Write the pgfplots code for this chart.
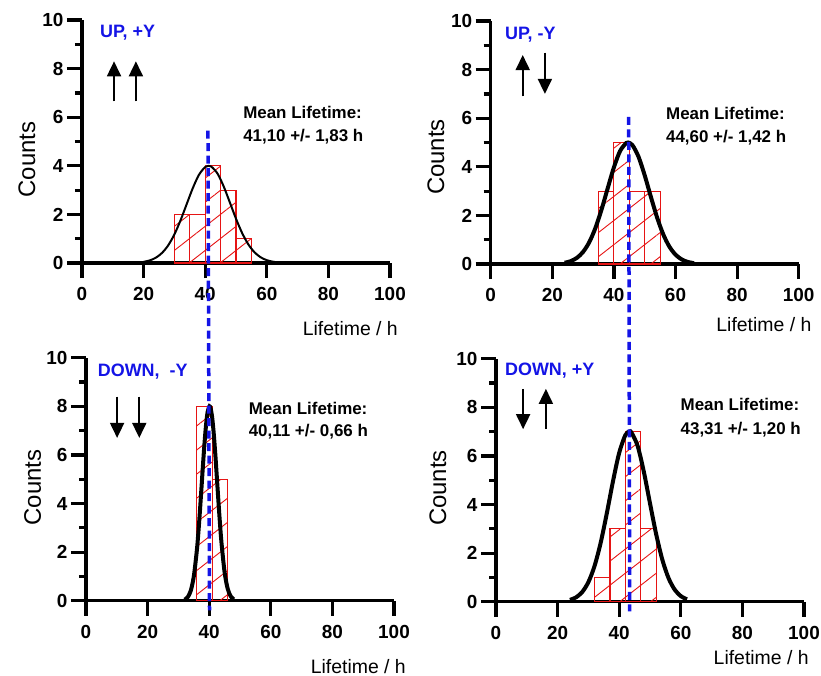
\documentclass[border=0pt]{standalone}
\usepackage{fontspec}
\setmainfont{Liberation Sans}
\usepackage{pgfplots}
\pgfplotsset{compat=1.18}
\usetikzlibrary{arrows.meta,patterns.meta}
\definecolor{dblue}{RGB}{20,20,230}
\definecolor{hred}{RGB}{230,20,20}

\pgfplotsset{
  panel/.style={
    scale only axis, width=308bp, height=243bp,
    xmin=0,xmax=100,ymin=0,ymax=10,
    axis lines=left, axis line style={-, line width=3.2bp},
    xtick={0,20,...,100}, ytick={0,2,...,10}, minor ytick={1,3,...,9},
    tick align=outside,
    xlabel={Lifetime / h}, ylabel={Counts},
    xlabel style={font=\fontsize{19.5}{22}\selectfont, anchor=east, inner sep=0pt},
    ylabel style={font=\fontsize{24}{26}\selectfont, anchor=center, inner sep=0pt},
    clip=false,
  },
  hist/.style={ybar interval, draw=hred, line width=1.1bp,
    pattern={Lines[angle=38,distance=19bp,line width=0.9bp]}, pattern color=hred},
  gauss/.style={black, line width=#1, smooth, mark=none},
}
\tikzset{
  tag/.style={anchor=west, inner sep=0pt, text=dblue, font=\bfseries\fontsize{18}{20}\selectfont},
  mean/.style={anchor=west, inner sep=0pt, font=\bfseries\fontsize{17}{19}\selectfont},
  arr/.style={line width=1.8bp, -{Triangle[length=15bp,width=14bp]}},
}

\begin{document}
\begin{tikzpicture}
\useasboundingbox (0,0) rectangle (821bp,-676bp);

% ---------- Panel 1: UP, +Y ----------
\begin{axis}[panel, at={(82bp,-263bp)}, anchor=south west,
  major tick length=15bp, minor tick length=7bp,
  every tick/.style={line width=3.2bp, black},
  tick label style={font=\bfseries\fontsize{19}{21}\selectfont},
  xticklabel={\pgfmathprintnumber{\tick}}, yticklabel={\pgfmathprintnumber{\tick}},
  xticklabel shift=6bp,
  xlabel style={at={(axis description cs:1.026,-0.269)}},
  ylabel style={at={(axis description cs:-0.179,0.426)}},
  /pgf/number format/assume math mode=true]
\addplot[hist] coordinates {(30,2) (35,2) (40,4) (45,3) (50,1) (55,1)};
\addplot[gauss=2bp] coordinates {
(20,0.048) (22,0.107) (24,0.220) (26,0.417) (28,0.729) (30,1.178) (32,1.759)
(34,2.426) (36,3.090) (38,3.636) (40,3.952) (41.1,4.000) (42,3.968) (44,3.680)
(46,3.152) (48,2.494) (50,1.823) (52,1.231) (54,0.768) (56,0.442) (58,0.235)
(60,0.116) (62,0.053) (64,0.022)};
\node[tag] at (axis cs:5.8,9.46) {UP, +Y};
\draw[arr] (axis cs:10.4,6.65) -- (axis cs:10.4,8.3);
\draw[arr] (axis cs:17.5,6.65) -- (axis cs:17.5,8.3);
\node[mean] at (axis cs:52.3,6.2) {Mean Lifetime:};
\node[mean] at (axis cs:52.3,5.2) {41,10 +/- 1,83 h};
\coordinate (T1) at (axis cs:40.9,5.45);
\end{axis}

% ---------- Panel 2: UP, -Y ----------
\begin{axis}[panel, at={(490.7bp,-264bp)}, anchor=south west,
  major tick length=15bp, minor tick length=7bp,
  every tick/.style={line width=3.2bp, black},
  tick label style={font=\bfseries\fontsize{19}{21}\selectfont},
  xticklabel={\pgfmathprintnumber{\tick}}, yticklabel={\pgfmathprintnumber{\tick}},
  xticklabel shift=6bp,
  xlabel style={at={(axis description cs:1.042,-0.251)}},
  ylabel style={at={(axis description cs:-0.178,0.44)}},
  /pgf/number format/assume math mode=true]
\addplot[hist] coordinates {(35,3) (40,5) (45,3) (50,3) (55,3)};
\addplot[gauss=4bp] coordinates {
(24,0.051) (26,0.119) (28,0.254) (30,0.499) (32,0.898) (34,1.483) (36,2.247)
(38,3.122) (40,3.977) (42,4.648) (44,4.981) (44.6,5.000) (46,4.895) (48,4.412)
(50,3.648) (52,2.766) (54,1.923) (56,1.227) (58,0.717) (60,0.385) (62,0.189)
(64,0.085) (66,0.035)};
\node[tag] at (axis cs:4.6,9.42) {UP, -Y};
\draw[arr] (axis cs:10.4,6.9) -- (axis cs:10.4,8.6);
\draw[arr] (axis cs:17.6,8.7) -- (axis cs:17.6,7.0);
\node[mean] at (axis cs:56.9,6.2) {Mean Lifetime:};
\node[mean] at (axis cs:56.9,5.2) {44,60 +/- 1,42 h};
\coordinate (T2) at (axis cs:44.8,6.05);
\end{axis}

% ---------- Panel 3: DOWN, -Y ----------
\begin{axis}[panel, at={(86bp,-600.7bp)}, anchor=south west,
  major tick length=15bp, minor tick length=7bp,
  every tick/.style={line width=3.2bp, black},
  tick label style={font=\bfseries\fontsize{19}{21}\selectfont},
  xticklabel={\pgfmathprintnumber{\tick}}, yticklabel={\pgfmathprintnumber{\tick}},
  xticklabel shift=6bp,
  xlabel style={at={(axis description cs:1.039,-0.271)}},
  ylabel style={at={(axis description cs:-0.173,0.466)}},
  /pgf/number format/assume math mode=true]
\addplot[hist] coordinates {(36,8) (41,5) (46,5)};
\addplot[gauss=4bp] coordinates {
(32,0.042) (33,0.142) (34,0.407) (35,0.999) (36,2.085) (36.5,2.837) (37,3.708)
(37.5,4.659) (38,5.622) (38.5,6.518) (39,7.262) (39.5,7.773) (40.1,8.000)
(40.5,7.898) (41,7.498) (41.5,6.839) (42,5.994) (42.5,5.046) (43,4.082)
(43.5,3.173) (44,2.370) (45,1.172) (46,0.494) (47,0.177) (48,0.054)};
\node[tag] at (axis cs:3.8,9.44) {DOWN,\ \ -Y};
\draw[arr] (axis cs:10.1,8.4) -- (axis cs:10.1,6.7);
\draw[arr] (axis cs:17.3,8.4) -- (axis cs:17.3,6.7);
\node[mean] at (axis cs:52.8,7.9) {Mean Lifetime:};
\node[mean] at (axis cs:52.8,6.97) {40,11 +/- 0,66 h};
\coordinate (B1) at (axis cs:40.1,-0.4);
\end{axis}

% ---------- Panel 4: DOWN, +Y ----------
\begin{axis}[panel, at={(496bp,-601.7bp)}, anchor=south west,
  major tick length=15bp, minor tick length=7bp,
  every tick/.style={line width=3.2bp, black},
  tick label style={font=\bfseries\fontsize{19}{21}\selectfont},
  xticklabel={\pgfmathprintnumber{\tick}}, yticklabel={\pgfmathprintnumber{\tick}},
  xticklabel shift=6bp,
  xlabel style={at={(axis description cs:1.016,-0.229)}},
  ylabel style={at={(axis description cs:-0.189,0.468)}},
  /pgf/number format/assume math mode=true]
\addplot[hist] coordinates {(32,1) (37,3) (42,7) (47,3) (52,3)};
\addplot[gauss=4bp] coordinates {
(24,0.074) (26,0.181) (28,0.402) (30,0.808) (32,1.473) (34,2.435) (36,3.653)
(38,4.968) (40,6.128) (42,6.857) (43.3,7.000) (44,6.958) (46,6.404) (48,5.345)
(50,4.047) (52,2.779) (54,1.731) (56,0.977) (58,0.500) (60,0.232) (62,0.098)};
\node[tag] at (axis cs:2.9,9.5) {DOWN, +Y};
\draw[arr] (axis cs:8.8,8.76) -- (axis cs:8.8,7.1);
\draw[arr] (axis cs:16.2,7.1) -- (axis cs:16.2,8.76);
\node[mean] at (axis cs:59.9,8.1) {Mean Lifetime:};
\node[mean] at (axis cs:59.9,7.1) {43,31 +/- 1,20 h};
\coordinate (B2) at (axis cs:43.4,-0.4);
\end{axis}

\draw[dblue, line width=3.5bp, dash pattern=on 8bp off 4.5bp] (T1) -- (B1);
\draw[dblue, line width=3.5bp, dash pattern=on 8bp off 4.5bp] (T2) -- (B2);
\end{tikzpicture}
\end{document}
